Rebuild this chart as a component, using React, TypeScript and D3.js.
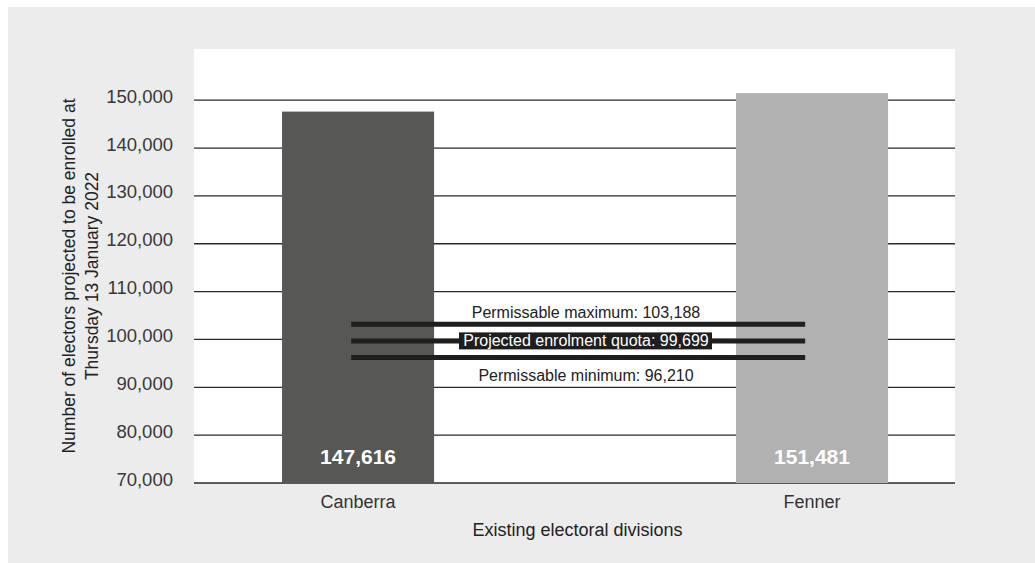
import React from "react";
import * as d3 from "d3";

// Existing divisions and their projected enrolments
const divisions: string[] = ["Canberra", "Fenner"];
const enrolments: number[] = [147616, 151481];
const barColors: string[] = ["#575755", "#b1b1b1"];

// Quota band: permissible maximum, projected quota, permissible minimum
const quotaNames: string[] = ["Permissable maximum", "Projected enrolment quota", "Permissable minimum"];
const quotaValues: number[] = [103188, 99699, 96210];

// Y-axis tick values
const yTicks: number[] = [70000, 80000, 90000, 100000, 110000, 120000, 130000, 140000, 150000];

const W = 1035;
const H = 563;
const plot = { left: 194, right: 955, top: 49, bottom: 483 };
const FONT = "'Liberation Sans', Arial, Helvetica, sans-serif";
const fmt = d3.format(",");

export default function App() {
  const y = d3.scaleLinear().domain([70000, 160700]).range([plot.bottom, plot.top]);
  const x = d3
    .scaleBand<string>()
    .domain(divisions)
    .range([plot.left, plot.right])
    .paddingInner(0.665)
    .paddingOuter(0.1707)
    .align(0.568);
  const bw = x.bandwidth();

  const lineX1 = (x(divisions[0]) as number) + bw * 0.455;
  const lineX2 = (x(divisions[1]) as number) + bw * 0.455;
  const labelCx = 586;

  const yMid = (plot.top + plot.bottom) / 2 + 10;

  return (
    <svg
      width={W}
      height={H}
      style={{ position: "absolute", left: 0, top: 0, fontFamily: FONT }}
    >
      <rect x={8} y={7} width={W - 8} height={H - 7} fill="#ececec" />
      <rect
        x={plot.left}
        y={plot.top}
        width={plot.right - plot.left}
        height={plot.bottom - plot.top}
        fill="#ffffff"
      />

      {/* gridlines and tick labels */}
      {yTicks.map((t) => (
        <g key={t}>
          <line
            x1={plot.left}
            x2={plot.right}
            y1={y(t)}
            y2={y(t)}
            stroke="#2a2a2a"
            strokeWidth={1.3}
          />
          <text
            x={173}
            y={y(t) + 2.5}
            textAnchor="end"
            fontSize={18.5}
            fill="#383838"
          >
            {fmt(t)}
          </text>
        </g>
      ))}

      {/* bars */}
      {divisions.map((d, i) => (
        <g key={d}>
          <rect
            x={x(d)}
            y={y(enrolments[i])}
            width={bw}
            height={y(70000) - y(enrolments[i])}
            fill={barColors[i]}
          />
          <text
            x={(x(d) as number) + bw / 2}
            y={y(70000) - 19}
            textAnchor="middle"
            fontSize={21}
            fontWeight="bold"
            fill="#ffffff"
          >
            {fmt(enrolments[i])}
          </text>
          <text
            x={(x(d) as number) + bw / 2}
            y={508}
            textAnchor="middle"
            fontSize={18}
            fill="#333333"
          >
            {d}
          </text>
        </g>
      ))}

      {/* quota lines */}
      {quotaValues.map((v) => (
        <line
          key={v}
          x1={lineX1}
          x2={lineX2}
          y1={y(v)}
          y2={y(v)}
          stroke="#1e1e1e"
          strokeWidth={5}
        />
      ))}
      <text x={labelCx} y={y(quotaValues[0]) - 6} textAnchor="middle" fontSize={16} fill="#222">
        {`${quotaNames[0]}: ${fmt(quotaValues[0])}`}
      </text>
      <rect x={459} y={y(quotaValues[1]) - 8.5} width={253} height={17} fill="#1e1e1e" />
      <text
        x={labelCx}
        y={y(quotaValues[1]) + 5.5}
        textAnchor="middle"
        fontSize={16}
        fill="#ffffff"
      >
        {`${quotaNames[1]}: ${fmt(quotaValues[1])}`}
      </text>
      <text x={labelCx} y={y(quotaValues[2]) + 23} textAnchor="middle" fontSize={16} fill="#222">
        {`${quotaNames[2]}: ${fmt(quotaValues[2])}`}
      </text>

      {/* axis titles */}
      <text
        transform={`translate(75, ${yMid}) rotate(-90)`}
        textAnchor="middle"
        fontSize={17.5}
        fill="#222"
      >
        Number of electors projected to be enrolled at
      </text>
      <text
        transform={`translate(97.5, ${yMid}) rotate(-90)`}
        textAnchor="middle"
        fontSize={17.5}
        fill="#222"
      >
        Thursday 13 January 2022
      </text>
      <text x={577.5} y={536} textAnchor="middle" fontSize={18} fill="#222">
        Existing electoral divisions
      </text>
    </svg>
  );
}
